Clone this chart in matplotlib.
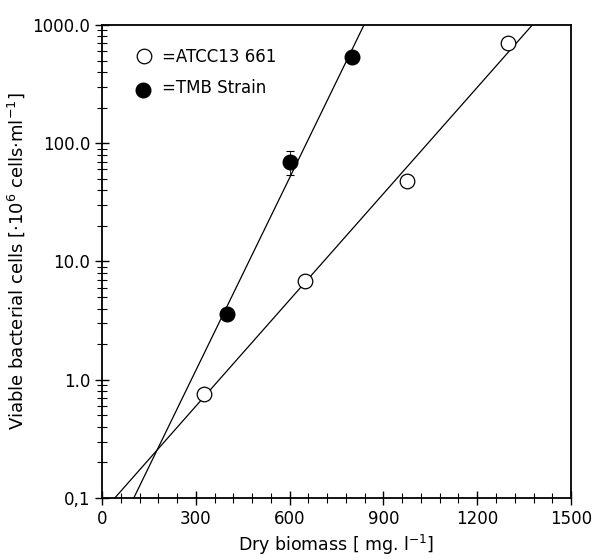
import numpy as np
import matplotlib.pyplot as plt
from matplotlib.ticker import FixedLocator, MultipleLocator, LogLocator, NullFormatter

# ATCC 13661 (open circles)
atcc_x = [325, 650, 975, 1300]
atcc_y = [0.76, 6.9, 48, 700]
# TMB strain (filled circles)
tmb_x = [400, 600, 800]
tmb_y = [3.6, 69, 536]
tmb_lo = [3.6, 54, 536]
tmb_hi = [3.6, 86, 536]

xticks = [0, 300, 600, 900, 1200, 1500]
yticks = [0.1, 1, 10, 100, 1000]
ylabels = ["0,1", "1.0", "10.0", "100.0", "1000.0"]

plt.rcParams['font.family'] = 'DejaVu Sans'
fig = plt.figure(figsize=(5.98, 5.6), dpi=100)
ax = fig.add_axes([0.1706, 0.1107, 0.7843, 0.8447])
ax.set_yscale('log')
ax.set_xlim(0, 1500)
ax.set_ylim(0.1, 1000)

# regression lines (log-linear)
xx = np.linspace(0, 1500, 400)
for xs, ys in [(atcc_x, atcc_y), (tmb_x, tmb_y)]:
    k, b = np.polyfit(xs, np.log10(ys), 1)
    ax.plot(xx, 10 ** (k * xx + b), color='black', lw=0.9, zorder=2)

ax.plot(atcc_x, atcc_y, 'o', ms=10.5, mfc='white', mec='black', mew=0.9, zorder=3)
yerr = [np.array(tmb_y) - np.array(tmb_lo), np.array(tmb_hi) - np.array(tmb_y)]
ax.errorbar(tmb_x, tmb_y, yerr=yerr, fmt='o', ms=10.5, color='black', ecolor='black',
            elinewidth=0.6, capsize=3, capthick=0.8, zorder=3)

# legend drawn by hand like the original
ax.plot([0.09], [0.935], 'o', ms=10.5, mfc='white', mec='black', mew=0.9, transform=ax.transAxes)
ax.plot([0.088], [0.863], 'o', ms=10.5, color='black', transform=ax.transAxes)
ax.text(0.128, 0.932, "=ATCC13 661", transform=ax.transAxes, fontsize=12, va='center')
ax.text(0.128, 0.866, "=TMB Strain", transform=ax.transAxes, fontsize=12, va='center')

ax.xaxis.set_major_locator(FixedLocator(xticks))
ax.xaxis.set_minor_locator(MultipleLocator(60))
ax.yaxis.set_major_locator(FixedLocator(yticks))
ax.set_yticklabels(ylabels)
ax.yaxis.set_minor_locator(LogLocator(base=10, subs=np.arange(2, 10)))
ax.yaxis.set_minor_formatter(NullFormatter())
ax.tick_params(which='major', direction='inout', length=10, width=1, labelsize=12,
               top=False, right=False)
ax.tick_params(which='minor', direction='inout', length=7, width=0.8, top=False, right=False)
for s in ax.spines.values():
    s.set_linewidth(1.3)

ax.set_xlabel("Dry biomass [ mg. l$^{-1}$]", fontsize=12.5)
ax.set_ylabel("Viable bacterial cells [$\\cdot$10$^6$ cells$\\cdot$ml$^{-1}$]", fontsize=13)

fig.savefig("out.png", dpi=100)
